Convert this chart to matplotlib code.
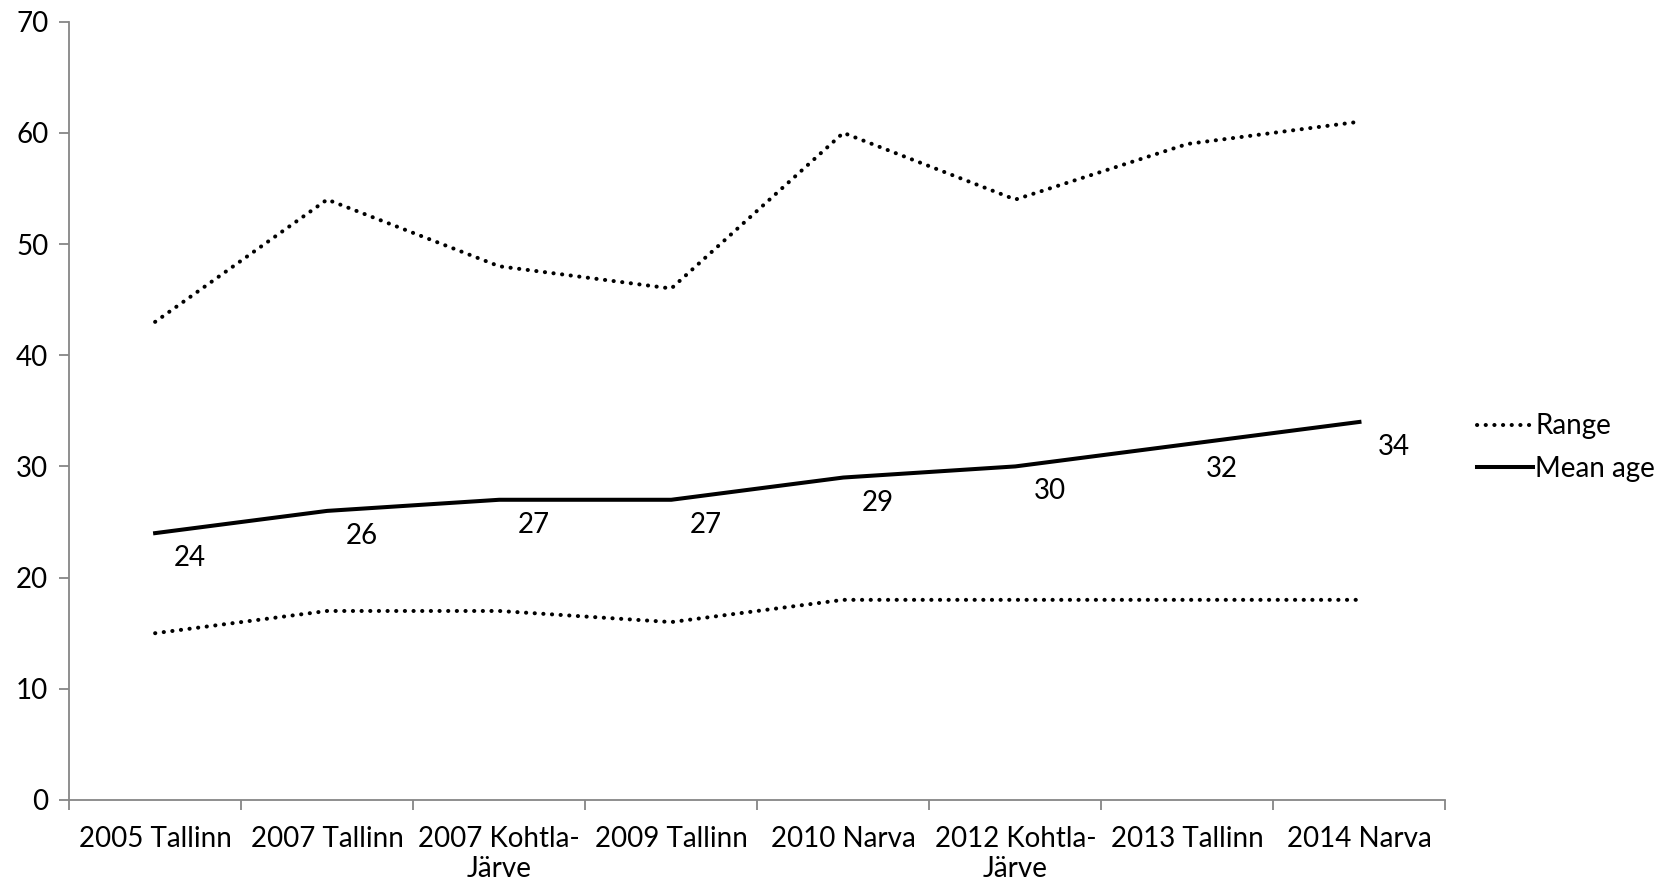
import matplotlib
matplotlib.use("Agg")
import matplotlib.pyplot as plt
import numpy as np

categories = ["2005 Tallinn", "2007 Tallinn", "2007 Kohtla-\nJärve", "2009 Tallinn",
              "2010 Narva", "2012 Kohtla-\nJärve", "2013 Tallinn", "2014 Narva"]
rangeMax = [43, 54, 48, 46, 60, 54, 59, 61]
rangeMin = [15, 17, 17, 16, 18, 18, 18, 18]
meanAge = [24, 26, 27, 27, 29, 30, 32, 34]

plt.rcParams['font.family'] = ['Lato', 'DejaVu Sans']
fs = 20

fig = plt.figure(figsize=(16.73, 8.83), dpi=100)
ax = fig.add_axes([0.0413, 0.094, 0.8227, 0.8815])

x = np.arange(len(categories))
dotStyle = dict(color='black', linewidth=2.9, linestyle=(0, (0.05, 2.1)),
                dash_capstyle='round')
lineRange, = ax.plot(x, rangeMax, **dotStyle)
ax.plot(x, rangeMin, **dotStyle)
lineMean, = ax.plot(x, meanAge, color='black', linewidth=2.9)

for xi, v in zip(x, meanAge):
    ax.annotate(str(v), (xi, v), xytext=(25, -18), textcoords='offset points',
                ha='center', va='center', fontsize=fs)

ax.set_xlim(-0.5, len(categories) - 0.5)
ax.set_ylim(0, 70)
ax.set_yticks(range(0, 71, 10))
ax.set_xticks(np.arange(-0.5, len(categories), 1))
ax.set_xticklabels([])
ax.set_xticks(x, minor=True)
ax.set_xticklabels(categories, minor=True, fontsize=fs, linespacing=1.15)
ax.tick_params(axis='x', which='minor', length=0, pad=19)
ax.tick_params(axis='x', which='major', length=7, color='#868686', width=1.3)
ax.tick_params(axis='y', length=7, color='#868686', width=1.3, labelsize=fs, pad=8)

for s in ['top', 'right']:
    ax.spines[s].set_visible(False)
for s in ['left', 'bottom']:
    ax.spines[s].set_color('#868686')
    ax.spines[s].set_linewidth(1.3)

fig.legend([lineRange, lineMean], ["Range", "Mean age"], loc='center left',
           bbox_to_anchor=(0.868, 0.493), frameon=False, fontsize=fs,
           handlelength=2.0, handletextpad=0.1, labelspacing=0.6)

fig.savefig("out.png", dpi=100)
